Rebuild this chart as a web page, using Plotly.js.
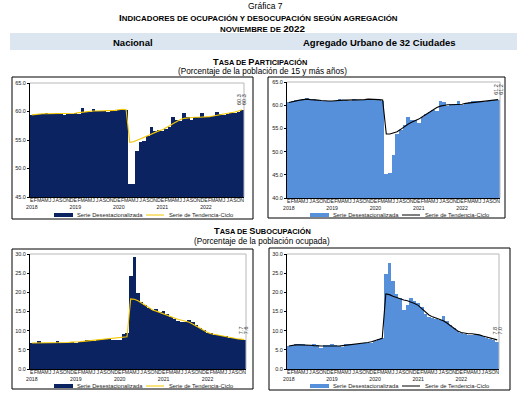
<!DOCTYPE html>
<html><head><meta charset="utf-8">
<script src="https://cdn.plot.ly/plotly-3.0.1.min.js"></script>
<style>html,body{margin:0;padding:0;background:#fff}#g{width:530px;height:395px}</style>
</head><body><div id="g"></div>
<script>
// ---------- DATA ----------
const mesesLetras = ['E','F','M','A','M','J','J','A','S','O','N','D'];
const anios = ['2018','2019','2020','2021','2022'];
const nMeses = 59; // enero 2018 - noviembre 2022

const partNacDesest = [
 59.4,59.4,59.5,59.6,59.8,59.6,59.6,59.7,59.5,59.4,59.5,59.6,
 59.8,59.6,60.6,59.9,60.0,60.4,60.1,60.1,60.1,60.0,60.1,60.1,
 60.3,60.5,60.3,47.2,47.3,53.0,54.7,54.9,55.7,57.2,56.5,56.8,
 56.6,56.9,57.3,59.0,58.5,58.3,59.7,59.1,58.5,59.0,59.1,59.7,
 59.1,59.1,59.2,60.0,59.5,59.4,59.6,59.7,59.8,60.0,60.3];
const partNacTend = [
 59.4,59.5,59.5,59.6,59.6,59.6,59.6,59.6,59.6,59.6,59.6,59.6,
 59.7,59.8,59.9,60.0,60.0,60.1,60.1,60.1,60.1,60.1,60.1,60.2,
 60.3,60.4,60.3,54.6,54.7,54.9,55.2,55.5,55.8,56.1,56.4,56.6,
 56.8,57.1,57.5,57.9,58.3,58.6,58.8,58.9,59.0,59.0,59.0,59.0,
 59.0,59.1,59.2,59.3,59.4,59.5,59.6,59.7,59.9,60.1,60.3];
const partUrbDesest = [
 60.6,60.9,61.1,61.2,61.3,61.5,61.4,61.3,61.2,61.0,60.9,60.9,
 60.9,61.0,61.3,61.1,61.1,61.0,61.3,61.2,61.1,61.1,61.3,61.2,
 61.3,61.1,61.0,45.1,45.3,49.2,53.7,54.6,55.7,57.4,56.8,56.8,
 56.1,57.5,58.0,58.5,59.0,58.7,60.8,60.6,59.8,60.3,60.2,61.0,
 60.1,60.4,60.6,61.0,60.8,60.9,60.7,60.8,61.0,61.1,61.2];
const partUrbTend = [
 60.6,60.8,61.0,61.1,61.2,61.3,61.2,61.2,61.1,61.0,60.9,60.9,
 60.9,61.0,61.0,61.1,61.1,61.1,61.1,61.1,61.1,61.2,61.3,61.3,
 61.3,61.2,61.1,53.8,53.8,54.0,54.3,54.8,55.4,55.9,56.3,56.6,
 57.0,57.5,58.0,58.6,59.1,59.5,59.8,60.0,60.1,60.1,60.1,60.1,
 60.2,60.4,60.5,60.6,60.7,60.7,60.8,60.9,61.0,61.1,61.2];
const subNacDesest = [
 6.9,6.9,7.3,6.9,6.8,6.8,6.9,7.4,6.9,6.8,6.9,7.1,
 6.9,7.0,7.2,7.6,7.5,7.4,7.6,7.5,7.7,7.9,7.6,7.5,
 7.5,9.2,9.3,24.3,29.3,19.7,17.6,16.8,15.9,15.4,15.7,14.8,
 15.1,14.3,13.6,13.1,12.6,12.2,12.3,12.9,12.3,11.5,10.8,10.2,
 9.4,9.4,8.9,8.8,8.5,8.7,8.2,8.0,7.9,7.7,7.6];
const subNacTend = [
 6.8,6.8,6.8,6.9,6.9,6.9,6.9,6.9,6.9,6.9,6.9,7.0,
 7.0,7.1,7.2,7.3,7.4,7.5,7.5,7.6,7.7,7.8,7.9,8.0,
 8.1,8.3,8.4,18.3,18.2,17.8,17.2,16.5,15.9,15.4,15.1,14.7,
 14.3,13.9,13.5,13.2,12.9,12.7,12.5,12.2,11.7,11.1,10.5,9.9,
 9.5,9.2,9.0,8.8,8.6,8.4,8.2,8.0,7.9,7.8,7.7];
const subUrbDesest = [
 6.0,6.1,6.4,6.6,6.5,6.3,6.2,6.6,6.3,5.6,6.3,6.3,
 6.6,6.2,6.0,5.8,6.6,6.5,6.4,6.4,6.6,6.7,6.8,6.7,
 7.3,7.8,8.0,24.8,27.6,23.0,19.6,18.5,15.3,16.8,18.6,17.8,
 17.2,16.2,14.4,13.6,13.2,13.0,12.7,13.7,12.6,11.6,10.8,9.8,
 9.4,9.2,9.0,9.0,9.1,8.8,8.5,8.2,7.8,7.6,7.1];
const subUrbTend = [
 6.0,6.2,6.3,6.3,6.3,6.3,6.2,6.1,6.0,6.0,6.0,6.0,
 5.9,5.9,6.0,6.1,6.2,6.3,6.4,6.5,6.6,6.7,6.9,7.1,
 7.4,7.7,8.0,19.6,19.4,19.0,18.6,18.3,18.0,17.8,17.5,17.1,
 16.6,15.8,14.9,14.1,13.6,13.3,13.0,12.6,12.0,11.3,10.6,9.9,
 9.5,9.3,9.2,9.2,9.1,8.9,8.6,8.3,8.0,7.8,7.6];

// etiquetas finales
const etiqPartNac = ['60.3','60.3'];
const etiqPartUrb = ['61.2','61.2'];
const etiqSubNac = ['7.7','7.6'];
const etiqSubUrb = ['7.8','7.0'];

const nombreDesest = 'Serie Desestacionalizada';
const nombreTend = 'Serie de Tendencia-Ciclo';

// ---------- BUILD ----------
const idx = [], ticktext = [];
for (let i = 0; i < nMeses; i++) {
  idx.push(i);
  const m = i % 12;
  ticktext.push(m === 0 ? mesesLetras[m] + '<br>' + anios[Math.floor(i/12)] : mesesLetras[m]);
}
const W = 530, H = 395;
const px = x => x / W, py = y => 1 - y / H;

const colNac = '#0b2360', colUrb = '#5690da';
const colTendNac = '#f2c500', colTendUrb = '#000000';
const FONT = 'Liberation Sans, Arial, sans-serif';

function xax(x0, x1, anchor) {
  return {domain:[px(x0), px(x1)], anchor, range:[-0.5, nMeses-0.5],
    tickmode:'array', tickvals: idx, ticktext, tickangle:0,
    tickfont:{size:5.2, color:'#222', family:FONT}, ticklabelstandoff:-2,
    showline:true, linecolor:'#000', linewidth:1, ticks:'', showgrid:false,
    zeroline:false, fixedrange:true, automargin:false};
}
function yax(y0, y1, anchor, r) {
  return {domain:[py(y1), py(y0)], anchor, range:r, dtick:5, tick0:0, tickformat:'.1f',
    tickfont:{size:5.5, color:'#222', family:FONT},
    showline:true, linecolor:'#000', linewidth:1, ticks:'outside', ticklen:2, tickcolor:'#000',
    showgrid:false, zeroline:false, fixedrange:true, automargin:false};
}

const panels = [
  {xa:'x', ya:'y', bar:partNacDesest, tend:partNacTend, cb:colNac, cl:colTendNac, lab:etiqPartNac},
  {xa:'x2', ya:'y2', bar:partUrbDesest, tend:partUrbTend, cb:colUrb, cl:colTendUrb, lab:etiqPartUrb},
  {xa:'x3', ya:'y3', bar:subNacDesest, tend:subNacTend, cb:colNac, cl:colTendNac, lab:etiqSubNac},
  {xa:'x4', ya:'y4', bar:subUrbDesest, tend:subUrbTend, cb:colUrb, cl:colTendUrb, lab:etiqSubUrb},
];

const data = [];
panels.forEach(p => {
  data.push({type:'bar', x:idx, y:p.bar, xaxis:p.xa, yaxis:p.ya, name:nombreDesest,
    marker:{color:p.cb, line:{width:0}}, showlegend:false, hoverinfo:'y'});
  data.push({type:'scatter', mode:'lines', x:idx, y:p.tend, xaxis:p.xa, yaxis:p.ya, name:nombreTend,
    line:{color:p.cl, width:1.1}, showlegend:false, hoverinfo:'y'});
});

const shapes = [];
const annotations = [];
function rectPx(x0,y0,x1,y1,opt){ shapes.push(Object.assign({type:'rect', xref:'paper', yref:'paper',
  x0:px(x0), x1:px(x1), y0:py(y1), y1:py(y0)}, opt)); }
function textPx(x,y,text,size,opt){ annotations.push(Object.assign({xref:'paper', yref:'paper', x:px(x), y:py(y),
  text, showarrow:false, xanchor:'center', yanchor:'middle', font:{size, color:'#000000', family:FONT}}, opt||{})); }

// banda azul
rectPx(10,33,517,50,{fillcolor:'#dce6f1', line:{width:0}, layer:'below'});
// cajas
rectPx(12,77,253,219,{line:{color:'#000', width:1}, fillcolor:'rgba(0,0,0,0)'});
rectPx(268,77,505,218,{line:{color:'#000', width:1}, fillcolor:'rgba(0,0,0,0)'});
rectPx(12,249,253,389,{line:{color:'#000', width:1}, fillcolor:'rgba(0,0,0,0)'});
rectPx(269,248,510,390,{line:{color:'#000', width:1}, fillcolor:'rgba(0,0,0,0)'});

// marco gris superior / derecho de cada área de trazado
panels.forEach(p => {
  const xr = p.xa + ' domain', yr = p.ya + ' domain';
  shapes.push({type:'line', xref:xr, yref:yr, x0:0, x1:1, y0:1, y1:1, line:{color:'#b8b8b8', width:1}});
  shapes.push({type:'line', xref:xr, yref:yr, x0:1, x1:1, y0:0, y1:1, line:{color:'#b8b8b8', width:1}});
  // etiquetas finales
  const last = nMeses - 1;
  const ytop = Math.max(p.bar[last], p.tend[last]);
  annotations.push({xref:p.xa, yref:p.ya, x:last, y:ytop, text:p.lab[0], showarrow:false,
    textangle:-90, xanchor:'center', yanchor:'bottom', xshift:-2.5, yshift:3,
    font:{size:5.5, color:'#333', family:FONT}});
  annotations.push({xref:p.xa, yref:p.ya, x:last, y:ytop, text:p.lab[1], showarrow:false,
    textangle:-90, xanchor:'center', yanchor:'bottom', xshift:2.5, yshift:3,
    font:{size:5.5, color:'#333', family:FONT}});
});

// leyendas
function leyenda(xs, y, cb, cl) {
  rectPx(xs, y-2, xs+19, y+2, {fillcolor:cb, line:{width:0}});
  textPx(xs+21, y, nombreDesest, 5.8, {xanchor:'left', font:{size:5.8, color:'#222', family:FONT}});
  shapes.push({type:'line', xref:'paper', yref:'paper', x0:px(xs+92), x1:px(xs+110), y0:py(y), y1:py(y), line:{color:cl, width:1}});
  textPx(xs+113, y, nombreTend, 5.8, {xanchor:'left', font:{size:5.8, color:'#222', family:FONT}});
}
leyenda(54, 215, colNac, colTendNac);
leyenda(310, 215, colUrb, colTendUrb);
leyenda(54, 386, colNac, colTendNac);
leyenda(310, 386, colUrb, colTendUrb);

// títulos
const sc = (s, f) => "<span style='font-size:" + f + "px'>" + s + "</span>";
textPx(265, 6, 'Gráfica 7', 8.5);
textPx(258, 17, '<b>I' + sc('NDICADORES DE OCUPACIÓN Y DESOCUPACIÓN SEGÚN AGREGACIÓN', 7.9) + '</b>', 9.8);
textPx(262, 28, '<b>' + sc('NOVIEMBRE DE ', 7.9) + '2022</b>', 9.8);
textPx(133, 42, '<b>Nacional</b>', 9.5);
textPx(379, 42, '<b>Agregado Urbano de 32 Ciudades</b>', 9.5);
textPx(260, 62, '<b>T' + sc('ASA DE ', 7.4) + 'P' + sc('ARTICIPACIÓN', 7.4) + '</b>', 9.2);
textPx(262, 72, '(Porcentaje de la población de 15 y más años)', 8.2, {font:{size:8.2, color:'#000000', family:FONT}});
textPx(262, 231, '<b>T' + sc('ASA DE ', 7.4) + 'S' + sc('UBOCUPACIÓN', 7.4) + '</b>', 9.2);
textPx(262, 241, '(Porcentaje de la población ocupada)', 8.2, {font:{size:8.2, color:'#000000', family:FONT}});

const layout = {
  width:W, height:H, margin:{l:0, r:0, t:0, b:0}, paper_bgcolor:'#fff', plot_bgcolor:'#fff',
  font:{family:FONT, color:'#000'}, showlegend:false, bargap:0, barmode:'overlay',
  xaxis: xax(30, 244, 'y'),   yaxis: yax(83, 197, 'x', [45, 65]),
  xaxis2: xax(287, 500, 'y2'), yaxis2: yax(82, 198, 'x2', [40, 65]),
  xaxis3: xax(30, 246, 'y3'), yaxis3: yax(254, 369, 'x3', [0, 30]),
  xaxis4: xax(287, 499, 'y4'), yaxis4: yax(254, 369, 'x4', [0, 30]),
  shapes, annotations
};
Plotly.newPlot('g', data, layout, {staticPlot:true, displayModeBar:false});
</script></body></html>
